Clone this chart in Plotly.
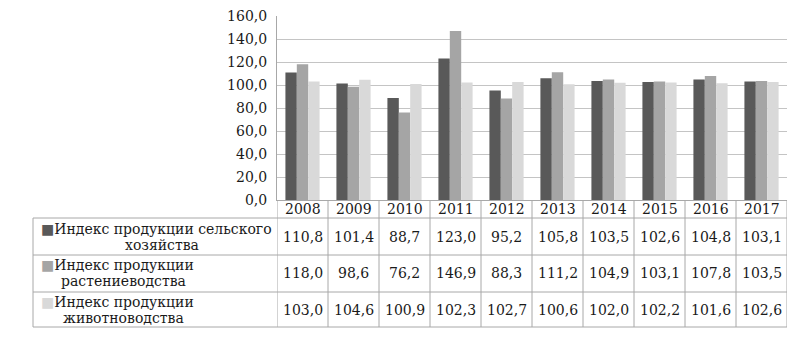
import plotly.graph_objects as go

years = ["2008", "2009", "2010", "2011", "2012", "2013", "2014", "2015", "2016", "2017"]
agri = [110.8, 101.4, 88.7, 123.0, 95.2, 105.8, 103.5, 102.6, 104.8, 103.1]
crop = [118.0, 98.6, 76.2, 146.9, 88.3, 111.2, 104.9, 103.1, 107.8, 103.5]
live = [103.0, 104.6, 100.9, 102.3, 102.7, 100.6, 102.0, 102.2, 101.6, 102.6]
name_lines = [("Индекс продукции сельского", "хозяйства"),
              ("Индекс продукции", "растениеводства"),
              ("Индекс продукции", "животноводства")]
colors = ["#595959", "#a5a5a5", "#d9d9d9"]
series = [agri, crop, live]

# the page body has an 8px default margin; work in screen pixels and subtract it
OFF = 8
W, H = 810, 337
PL, PR, PT, PB = 277, 787, 16, 200  # plot area in screen pixels
L, T = PL - OFF, PT - OFF
R, B = W - (PR - OFF), H - (PB - OFF)
pw, ph = W - L - R, H - T - B
FONT = "DejaVu Serif"
TXT = "#1a1a1a"

def py(px):  # screen pixel y -> paper y
    return (PB - px) / ph

def px_x(px):  # screen pixel x -> paper x
    return (px - PL) / pw

fig = go.Figure()
for vals, c, nl in zip(series, colors, name_lines):
    fig.add_trace(go.Bar(x=years, y=vals, marker=dict(color=c, line=dict(width=0)),
                         name=" ".join(nl), showlegend=False))

shapes = []
ann = []
line_c = "#a8a8a8"
for i in range(len(years) + 1):
    shapes.append(dict(type="line", xref="x", yref="paper", x0=i - 0.5, x1=i - 0.5,
                       y0=py(200), y1=py(327), line=dict(color=line_c, width=1)))
shapes.append(dict(type="line", xref="paper", yref="paper", x0=px_x(33), x1=px_x(33),
                   y0=py(218), y1=py(327), line=dict(color=line_c, width=1)))
for yy in [218, 255, 292, 327]:
    shapes.append(dict(type="line", xref="paper", yref="paper", x0=px_x(33), x1=1,
                       y0=py(yy), y1=py(yy), line=dict(color=line_c, width=1)))

def txt(x, xref, ypx, text, size=14):
    return dict(x=x, xref=xref, y=py(ypx), yref="paper", text=text, showarrow=False,
                xanchor="center", yanchor="middle",
                font=dict(family=FONT, size=size, color=TXT))

for i, yr in enumerate(years):
    ann.append(txt(i, "x", 209, yr))
row_centers = [237, 273, 310]
line_y = [(229, 245), (265, 281), (302, 318)]
line_cx = [(156, 162), (117, 123), (117, 123)]
for r, (vals, c, nl) in enumerate(zip(series, colors, name_lines)):
    for i, v in enumerate(vals):
        ann.append(txt(i, "x", row_centers[r], f"{v:.1f}".replace(".", ",")))
    ann.append(txt(px_x(line_cx[r][0]), "paper", line_y[r][0],
                   f"<span style='color:{c}'>■</span>{nl[0]}"))
    ann.append(txt(px_x(line_cx[r][1]), "paper", line_y[r][1], nl[1]))

fig.update_layout(
    width=W, height=H,
    margin=dict(l=L, r=R, t=T, b=B),
    paper_bgcolor="white", plot_bgcolor="white",
    barmode="group", bargap=0.33, bargroupgap=0,
    separators=", ",
    font=dict(family=FONT, size=14, color=TXT),
    xaxis=dict(type="category", range=[-0.5, 9.5], autorange=False, showticklabels=False,
               showgrid=False, ticks="", showline=True, linecolor=line_c, linewidth=1),
    yaxis=dict(range=[0, 160.05], tickmode="linear", tick0=0, dtick=20, tickformat=".1f",
               showgrid=True, gridcolor="#c4c4c4", ticklabeloverflow="allow",
               showline=True, linecolor=line_c, linewidth=1, ticks="outside", ticklen=6,
               tickcolor="white", zeroline=False, automargin=False,
               tickfont=dict(family=FONT, size=14, color=TXT)),
    shapes=shapes, annotations=ann,
)
fig.write_html("out.html")
